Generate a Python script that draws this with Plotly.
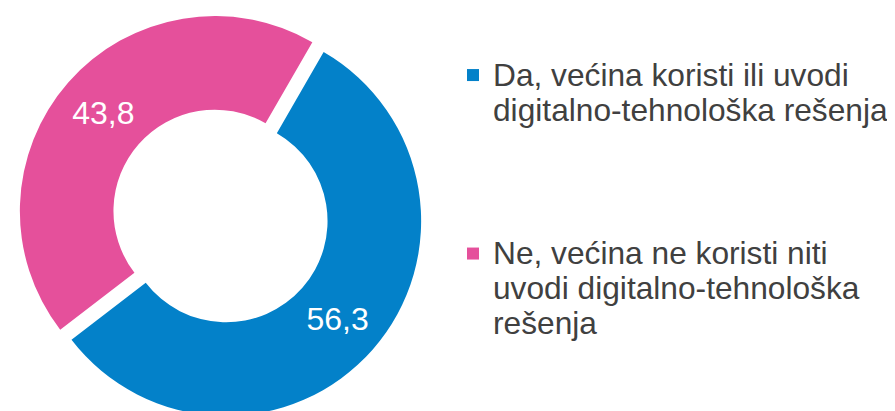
import plotly.graph_objects as go

labels = ["Da, većina koristi ili uvodi<br>digitalno-tehnološka rešenja",
          "Ne, većina ne koristi niti<br>uvodi digitalno-tehnološka<br>rešenja"]
values = [56.3, 43.8]
value_text = ["56,3", "43,8"]
colors = ["#0381C9", "#E5509B"]

# legend text: larger glyphs in a span, base font sets tighter line spacing;
# extra blank lines after the first entry reproduce the vertical gap
def legend_label(s, pad_lines):
    lines = s.split("<br>")
    body = "<br>".join('<span style="font-size:31.7px">' + ln + "</span>" for ln in lines)
    return body + "<br> " * pad_lines

legend_labels = [legend_label(labels[0], 3), legend_label(labels[1], 0)]

fig = go.Figure(go.Pie(
    labels=legend_labels,
    values=values,
    text=value_text,
    texttemplate="%{text}",
    textposition="inside",
    insidetextorientation="horizontal",
    textfont=dict(family="Liberation Sans, Arial", size=32, color="white"),
    marker=dict(colors=colors, line=dict(width=0)),
    hole=0.52,
    pull=[0.0385, 0.0385],
    sort=False,
    direction="clockwise",
    rotation=30,
    domain=dict(x=[10/895, 415/895], y=[0, 406/411]),
    hoverinfo="skip",
))

fig.update_layout(
    width=895, height=411,
    margin=dict(l=0, r=0, t=0, b=0),
    paper_bgcolor="white",
    plot_bgcolor="white",
    showlegend=True,
    legend=dict(
        x=445/895, xanchor="left",
        y=1 - 43/411, yanchor="top",
        valign="top",
        font=dict(family="Liberation Sans, Arial", size=27, color="#404040"),
        bgcolor="rgba(0,0,0,0)",
        itemclick=False, itemdoubleclick=False,
    ),
)

fig.write_html("out.html")
